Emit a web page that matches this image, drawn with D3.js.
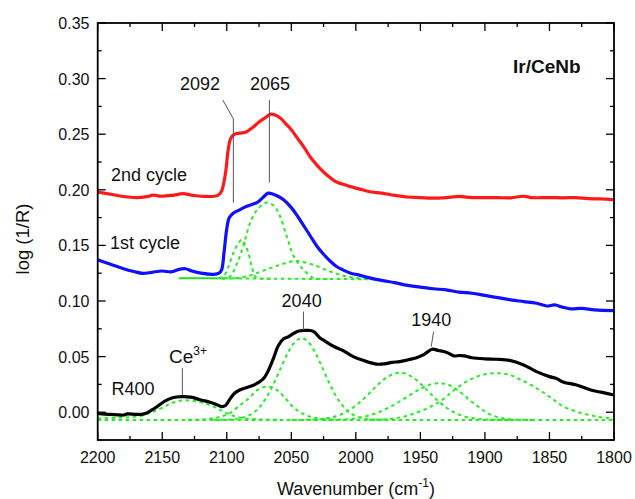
<!DOCTYPE html>
<html>
<head>
<meta charset="utf-8">
<script src="https://cdn.jsdelivr.net/npm/d3@7"></script>
<style>
body { margin: 0; background: #fff; }
text { font-family: "Liberation Sans", Arial, sans-serif; fill: #111; }
</style>
</head>
<body>
<div id="plot"></div>
<script>
// spectra [wavenumber, log(1/R)]
var cycle2 = [[2200,0.198],[2190,0.196],[2180,0.194],[2170,0.193],[2162,0.1938],[2157,0.1952],[2151,0.1942],[2142,0.195],[2134,0.1965],[2126,0.195],[2116,0.194],[2107,0.195],[2104,0.199],[2101,0.215],[2099,0.235],[2097,0.246],[2094,0.250],[2090,0.251],[2085,0.252],[2080,0.256],[2075,0.261],[2070,0.265],[2066,0.268],[2062,0.267],[2058,0.264],[2054,0.259],[2050,0.254],[2045,0.246],[2040,0.238],[2035,0.229],[2030,0.222],[2025,0.216],[2020,0.211],[2015,0.207],[2010,0.205],[2000,0.2015],[1995,0.200],[1988,0.198],[1980,0.197],[1970,0.195],[1960,0.1935],[1950,0.193],[1940,0.1925],[1930,0.193],[1920,0.194],[1910,0.193],[1900,0.193],[1890,0.193],[1880,0.1928],[1870,0.1942],[1864,0.193],[1850,0.193],[1840,0.1928],[1830,0.193],[1820,0.192],[1810,0.1918],[1800,0.191]];

var cycle1 = [[2200,0.137],[2190,0.133],[2180,0.129],[2172,0.1265],[2165,0.1248],[2158,0.1258],[2150,0.127],[2143,0.1262],[2137,0.1285],[2132,0.129],[2127,0.127],[2120,0.125],[2110,0.124],[2106,0.125],[2104,0.128],[2102,0.145],[2100,0.165],[2098,0.175],[2095,0.179],[2090,0.182],[2085,0.185],[2080,0.187],[2076,0.189],[2072,0.193],[2068,0.197],[2064,0.196],[2060,0.194],[2056,0.191],[2050,0.184],[2045,0.176],[2040,0.167],[2035,0.158],[2030,0.149],[2025,0.142],[2020,0.136],[2015,0.131],[2010,0.128],[2004,0.125],[1998,0.1235],[1990,0.121],[1980,0.1185],[1970,0.1165],[1960,0.114],[1950,0.1125],[1940,0.111],[1930,0.110],[1920,0.108],[1910,0.107],[1900,0.105],[1890,0.103],[1880,0.101],[1870,0.0995],[1860,0.098],[1852,0.0955],[1846,0.0965],[1840,0.0945],[1834,0.093],[1825,0.0933],[1815,0.092],[1800,0.0914]];

var r400 = [[2200,-0.001],[2190,-0.002],[2180,-0.0025],[2177,-0.0015],[2170,-0.002],[2164,-0.0015],[2158,0.002],[2154,0.005],[2148,0.010],[2142,0.013],[2135,0.014],[2128,0.0135],[2120,0.011],[2113,0.009],[2108,0.007],[2104,0.005],[2101,0.006],[2098,0.011],[2094,0.017],[2090,0.020],[2085,0.022],[2080,0.024],[2075,0.027],[2071,0.031],[2068,0.037],[2064,0.048],[2060,0.060],[2056,0.066],[2052,0.068],[2048,0.071],[2044,0.073],[2040,0.0735],[2035,0.0735],[2032,0.072],[2028,0.067],[2024,0.064],[2020,0.061],[2015,0.058],[2010,0.0555],[2005,0.052],[2000,0.049],[1995,0.047],[1990,0.045],[1984,0.0432],[1978,0.0435],[1972,0.0448],[1966,0.0455],[1960,0.047],[1953,0.049],[1947,0.052],[1941,0.0566],[1936,0.0555],[1930,0.054],[1924,0.0506],[1920,0.051],[1916,0.0506],[1910,0.049],[1900,0.048],[1891,0.0476],[1880,0.0464],[1870,0.0425],[1860,0.0365],[1850,0.032],[1845,0.0305],[1839,0.027],[1829,0.0245],[1818,0.020],[1810,0.018],[1800,0.0155]];

// fitted components of 1st cycle (green)
var fit1Base = [[2137,0.1205],[2107,0.1205]];
var fit1BaseDash = [[2107,0.1205],[2060,0.1200],[2020,0.1198],[1983,0.1195]];
var fit1A = [[2106,0.1205],[2102.6,0.122],[2099,0.130],[2095,0.143],[2091,0.152],[2088.4,0.155],[2085.5,0.150],[2082.5,0.140],[2080.6,0.131],[2078,0.122],[2074,0.1203],[2066,0.1200]];
var fit1B = [[2104,0.1203],[2097.5,0.122],[2092,0.134],[2087,0.150],[2082,0.170],[2075.5,0.1835],[2068.5,0.1885],[2063,0.185],[2058.7,0.176],[2053.5,0.158],[2048,0.140],[2040.5,0.128],[2034,0.1215],[2030,0.1200],[2020,0.1198]];
var fit1C = [[2104,0.1200],[2097.5,0.1202],[2085,0.122],[2071.6,0.1273],[2058.7,0.1325],[2046,0.136],[2033,0.1325],[2020,0.1265],[2007,0.122],[1991.5,0.1198],[1983,0.1195]];

// fitted components of R400 (green)
var fit0Base = [[2200,-0.007],[2100,-0.007],[2000,-0.007],[1900,-0.007],[1800,-0.007]];
var fit0G1 = [[2200,-0.0055],[2185,-0.005],[2175,-0.0045],[2165,-0.003],[2158,0.000],[2150,0.004],[2143,0.008],[2135,0.0105],[2128,0.0105],[2120,0.009],[2112,0.006],[2105,0.002],[2098,-0.002],[2090,-0.0048],[2080,-0.0062],[2060,-0.0068]];
var fit0G2 = [[2130,-0.0068],[2115,-0.0062],[2105,-0.004],[2098,-0.001],[2090,0.006],[2083,0.0125],[2076,0.020],[2069,0.023],[2062,0.0205],[2055,0.013],[2048,0.004],[2040,-0.002],[2030,-0.0055],[2015,-0.0068]];
var fit0G3 = [[2110,-0.0069],[2092,-0.006],[2082,-0.0024],[2077,0.0018],[2072,0.0085],[2067,0.0179],[2062,0.0298],[2057,0.0428],[2052,0.0548],[2047,0.0634],[2042,0.0665],[2037,0.0634],[2032,0.0548],[2027,0.0428],[2022,0.0298],[2017,0.0179],[2012,0.0085],[2007,0.0018],[2002,-0.0024],[1992,-0.006],[1975,-0.0069]];
var fit0G4 = [[2050,-0.0069],[2036,-0.0068],[2026,-0.006],[2016,-0.0038],[2006,0.0012],[1996,0.0098],[1986,0.0212],[1976,0.0314],[1966,0.0356],[1956,0.0314],[1946,0.0212],[1936,0.0098],[1926,0.0012],[1916,-0.0038],[1906,-0.006],[1896,-0.0068],[1880,-0.0069]];
var fit0G5 = [[2025,-0.0069],[2010,-0.0066],[2000,-0.0055],[1990,-0.003],[1980,0.001],[1970,0.007],[1960,0.014],[1950,0.021],[1942,0.025],[1935,0.026],[1928,0.0245],[1920,0.019],[1912,0.011],[1904,0.004],[1896,-0.002],[1888,-0.005],[1878,-0.0066],[1860,-0.0069]];
var fit0G6 = [[1990,-0.0068],[1975,-0.0062],[1963,-0.004],[1952,0.000],[1942,0.005],[1932,0.012],[1922,0.0216],[1912,0.029],[1902,0.0335],[1892,0.035],[1882,0.034],[1872,0.029],[1862,0.023],[1850,0.014],[1839,0.005],[1826,-0.0005],[1813,-0.004],[1803,-0.0055],[1800,-0.006]];

// ticks
var xMajor = [2200,2150,2100,2050,2000,1950,1900,1850,1800];
var xMinor = [2175,2125,2075,2025,1975,1925,1875,1825];
var yMajor = [0.00,0.05,0.10,0.15,0.20,0.25,0.30,0.35];
var yMinor = [-0.025,0.025,0.075,0.125,0.175,0.225,0.275,0.325];

// labels [text, wavenumber, value]
var peakLabels = [["2092",2120.8,0.290],["2065",2066.5,0.290],["2040",2042,0.0950],["1940",1941.5,0.0775]];
var leaders = [
  [[2103.1,0.2808],[2094.9,0.2638],[2094.9,0.1885]],
  [[2067,0.2808],[2067,0.2065]],
  [[2040.6,0.0905],[2040.6,0.0740]],
  [[1939.8,0.0725],[1941.6,0.0590]],
  [[2134.4,0.0396],[2134.4,0.0149]]
];

//setup
var width = 635, height = 499;
var margin = {left: 97.7, right: 21, top: 23, bottom: 59};

var svg = d3.select("#plot")
  .append("svg")
  .attr("width", width)
  .attr("height", height);

svg.append("rect").attr("width", width).attr("height", height).attr("fill", "#fff");

var x = d3.scaleLinear().domain([2200, 1800]).range([margin.left, width - margin.right]);
var y = d3.scaleLinear().domain([-0.025, 0.35]).range([height - margin.bottom, margin.top]);

var line = d3.line()
  .x(function(d) { return x(d[0]); })
  .y(function(d) { return y(d[1]); })
  .curve(d3.curveCatmullRom.alpha(0.5));

//green fits first (under the spectra)
var dashed = [fit1BaseDash, fit1A, fit1B, fit1C, fit0Base, fit0G1, fit0G2, fit0G3, fit0G4, fit0G5, fit0G6];
dashed.forEach(function(c) {
  svg.append("path")
    .attr("d", line(c))
    .attr("fill", "none")
    .attr("stroke", "#22ee22")
    .attr("stroke-width", 2)
    .attr("stroke-dasharray", "3.5,3.5");
});
svg.append("path")
  .attr("d", line(fit1Base))
  .attr("fill", "none")
  .attr("stroke", "#22dd22")
  .attr("stroke-width", 2);

//spectra
[[cycle2, "#ff1a1a"], [cycle1, "#1010ff"], [r400, "#000"]].forEach(function(s) {
  svg.append("path")
    .attr("d", line(s[0]))
    .attr("fill", "none")
    .attr("stroke", s[1])
    .attr("stroke-width", 3.2)
    .attr("stroke-linejoin", "round");
});

//frame and ticks
var x0 = x.range()[0], x1 = x.range()[1], y0 = y.range()[0], y1 = y.range()[1];

function tickset(axis, vals, len) {
  vals.forEach(function(v) {
    if (axis == "x") {
      svg.append("line").attr("x1", x(v)).attr("x2", x(v)).attr("y1", y0).attr("y2", y0 - len).attr("stroke", "#000").attr("stroke-width", 1.3);
      svg.append("line").attr("x1", x(v)).attr("x2", x(v)).attr("y1", y1).attr("y2", y1 + len).attr("stroke", "#000").attr("stroke-width", 1.3);
    } else {
      svg.append("line").attr("x1", x0).attr("x2", x0 + len).attr("y1", y(v)).attr("y2", y(v)).attr("stroke", "#000").attr("stroke-width", 1.3);
      svg.append("line").attr("x1", x1).attr("x2", x1 - len).attr("y1", y(v)).attr("y2", y(v)).attr("stroke", "#000").attr("stroke-width", 1.3);
    }
  });
}
tickset("x", xMajor, 8);
tickset("x", xMinor, 4);
tickset("y", yMajor, 8);
tickset("y", yMinor, 4);

svg.append("rect")
  .attr("x", x0).attr("y", y1)
  .attr("width", x1 - x0).attr("height", y0 - y1)
  .attr("fill", "none")
  .attr("stroke", "#000")
  .attr("stroke-width", 1.8);

//tick labels
svg.selectAll(".xl").data(xMajor).enter().append("text")
  .attr("x", function(d) { return x(d); })
  .attr("y", 463)
  .attr("font-size", 16)
  .attr("text-anchor", "middle")
  .text(function(d) { return d; });

svg.selectAll(".yl").data(yMajor).enter().append("text")
  .attr("x", 89.5)
  .attr("y", function(d) { return y(d) + 6; })
  .attr("font-size", 16)
  .attr("text-anchor", "end")
  .text(function(d) { return d.toFixed(2); });

//axis titles
var xt = svg.append("text")
  .attr("x", 356)
  .attr("y", 495)
  .attr("font-size", 18)
  .attr("text-anchor", "middle");
xt.append("tspan").text("Wavenumber (cm");
xt.append("tspan").attr("font-size", 12).attr("dy", -8).text("-1");
xt.append("tspan").attr("dy", 8).text(")");

svg.append("text")
  .attr("transform", "translate(29,239) rotate(-90)")
  .attr("font-size", 18.5)
  .attr("text-anchor", "middle")
  .text("log (1/R)");

//annotations
svg.append("text").attr("x", 513).attr("y", 73).attr("font-size", 19).attr("font-weight", "bold").text("Ir/CeNb");
svg.append("text").attr("x", 111).attr("y", 181).attr("font-size", 18).text("2nd cycle");
svg.append("text").attr("x", 110).attr("y", 249).attr("font-size", 18).text("1st cycle");
svg.append("text").attr("x", 111.5).attr("y", 395).attr("font-size", 18).text("R400");

var ce = svg.append("text").attr("x", 169).attr("y", 363).attr("font-size", 19);
ce.append("tspan").text("Ce");
ce.append("tspan").attr("font-size", 12).attr("dy", -8).text("3+");

peakLabels.forEach(function(p) {
  svg.append("text")
    .attr("x", x(p[1]))
    .attr("y", y(p[2]))
    .attr("font-size", 18)
    .attr("text-anchor", "middle")
    .text(p[0]);
});

var plain = d3.line().x(function(d) { return x(d[0]); }).y(function(d) { return y(d[1]); });
leaders.forEach(function(l) {
  svg.append("path")
    .attr("d", plain(l))
    .attr("fill", "none")
    .attr("stroke", "#555")
    .attr("stroke-width", 1);
});
</script>
</body>
</html>
